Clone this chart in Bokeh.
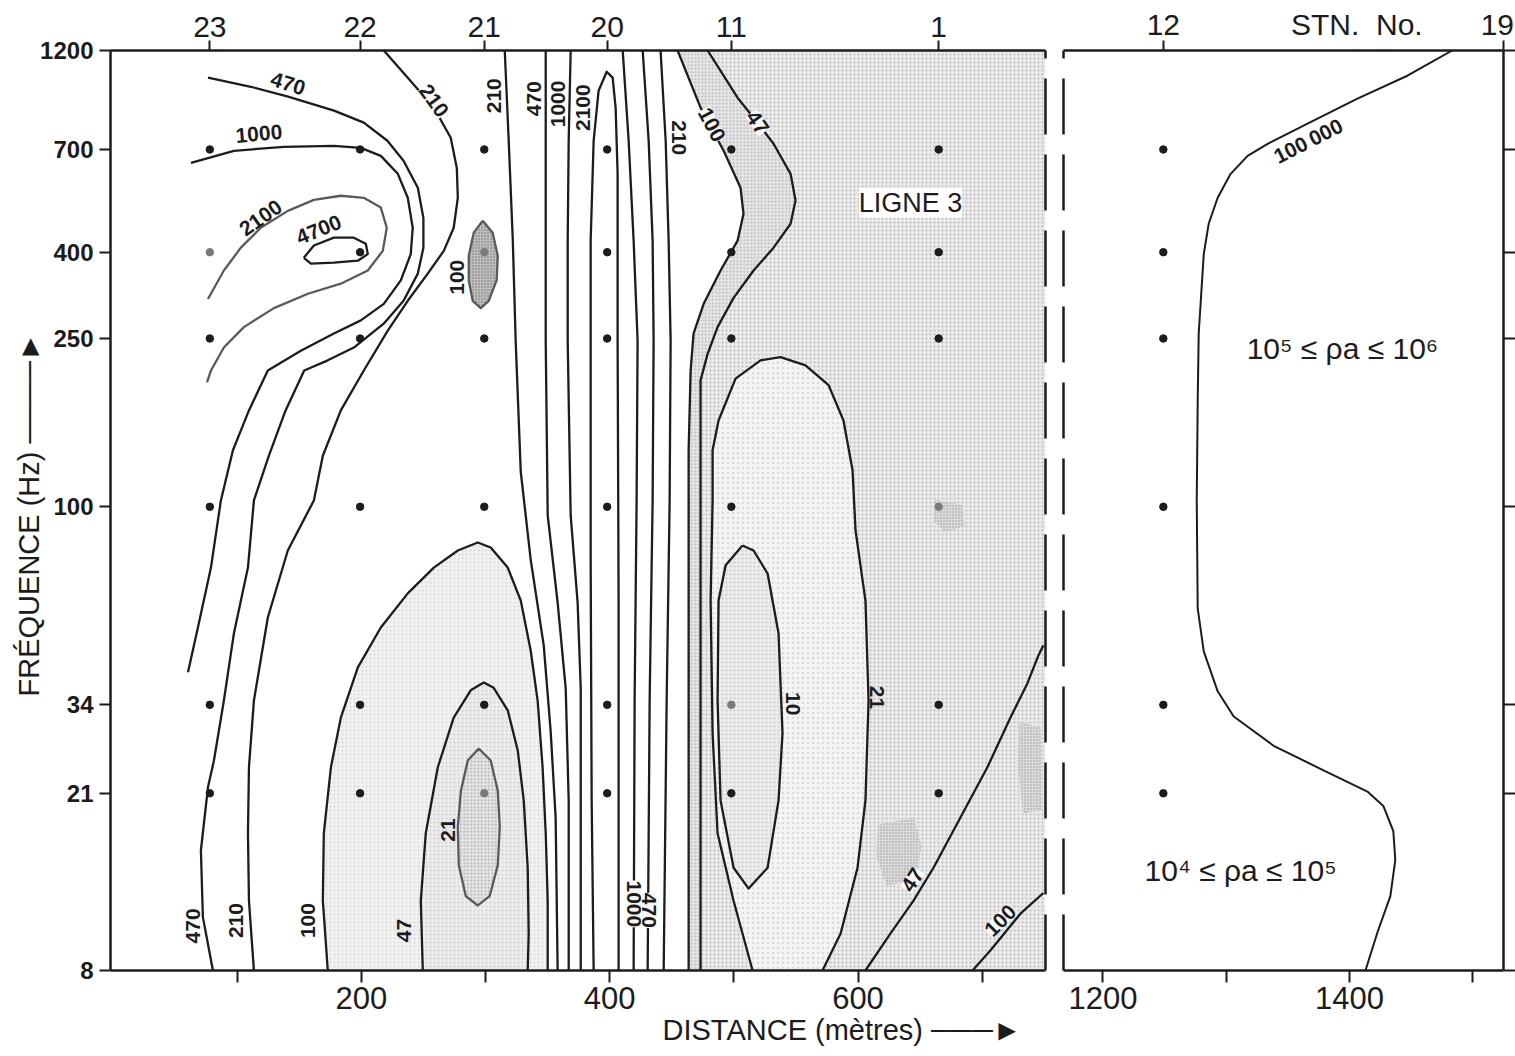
from bokeh.plotting import figure
from bokeh.layouts import row
from bokeh.models import Range1d, FixedTicker, LinearAxis, Label, Title, ColumnDataSource
from bokeh.embed import file_html
from bokeh.resources import INLINE

# ---------------------------------------------------------------- data
# Stations along the traverse (number label, distance in metres)
stations_main = ["23", "22", "21", "20", "11", "1"]
station_dist_main = [78, 199, 299, 398, 498, 665]
stations_far = ["12", "19"]
station_dist_far = [1249, 1525]
station_caption_dist = 1406

# Sounding frequencies (Hz) and axis ticks
freq_ticks = [8, 21, 34, 100, 250, 400, 700, 1200]
sounding_freqs = [21, 34, 100, 250, 400, 700]
dist_ticks_main = [100, 200, 300, 400, 500, 600, 700]
dist_labels_main = [200, 400, 600]
dist_ticks_far = [1200, 1300, 1400, 1500]
dist_labels_far = [1200, 1400]

# readings drawn with a fainter dot
faint_readings = [("23", 400), ("21", 400), ("21", 21), ("11", 34), ("1", 100)]

# Apparent-resistivity isolines (ohm.m): distance (m) / frequency (Hz)
iso470_w_d = [76.5, 111, 141, 178, 202, 221, 234, 245.5, 250, 250, 245.5, 234, 218, 194, 173, 154, 139,
              125.5, 113.5, 108.7, 97.4, 89.3, 81.3, 76.5, 70.8, 72.4, 80.5]
iso470_w_f = [1035, 985, 933, 865, 810, 734, 658, 568, 482, 410, 356, 307, 271, 238, 222, 210, 169,
              132, 103.5, 71.8, 50.2, 34.8, 25.1, 21.7, 15.4, 10.7, 8.0]
iso1000_w_d = [62.8, 97.4, 137.6, 177.9, 199.6, 215.7, 229.4, 237.4, 241.4, 239.8, 231.8, 218.1, 199.6,
               177.9, 151.3, 124.7, 109.5, 96.6, 86.9, 78.9, 68.4, 60.4]
iso1000_w_f = [651, 695, 710, 714, 706, 676, 613, 538, 457, 396, 343, 302, 276, 257, 234, 210, 169,
               136, 103.5, 71.8, 51.8, 40.6]
iso2100_w_d = [76.5, 89.3, 103, 119, 140.8, 161.8, 183.5, 202, 215.7, 220.5, 217.3, 205.2, 183.5, 157,
               129.6, 105.4, 89.3, 78.9, 75.7]
iso2100_w_f = [310, 362, 410, 457, 501, 532, 544, 538, 510, 457, 403, 362, 337, 319, 295, 266, 238, 210, 197]
iso4700_d = [153.7, 161.8, 177.9, 194, 203.6, 205.2, 197.2, 177.9, 159.4, 153.7]
iso4700_f = [388, 415, 433, 433, 419, 396, 382, 378, 376, 388]
iso210_w_d = [218.1, 237.4, 258.4, 272, 276.9, 277.7, 274.4, 266.4, 253.5, 237.4, 221.3, 202, 183.5, 169,
              161.8, 140.8, 124.7, 113.5, 109.5, 108.7, 109.5, 113.5]
iso210_w_f = [1200, 1035, 879, 746, 633, 538, 457, 403, 356, 307, 261, 210, 169, 132, 103.5, 78.8, 54.7,
              34.8, 24.2, 16.9, 11.7, 8.0]
iso100_b_d = [173, 169, 169.8, 175.5, 183.5, 197.2, 215.7, 237.4, 258.4, 277.7, 293.8, 304.2, 317.9, 328.4,
              336.4, 342, 346, 348.5, 350.1, 350.1]
iso100_b_f = [8.0, 11.7, 16.9, 24.2, 31.7, 41.7, 51.8, 62.4, 71.8, 78.8, 82.3, 80.1, 71.8, 60.0, 45.7,
              34.8, 24.2, 16.9, 11.7, 8.0]
iso47_b_d = [249.5, 247.9, 251.9, 261.6, 274.4, 288.1, 298.6, 306.6, 317.9, 326, 330.8, 334, 334.8, 334]
iso47_b_f = [8.0, 11.7, 16.9, 24.2, 31.7, 36.8, 38.4, 37.3, 33.0, 26.5, 20.2, 14.0, 9.79, 8.0]
iso21_b_d = [294.6, 304.2, 309.9, 311.5, 309.9, 303.4, 293.8, 284.1, 278.5, 277.7, 280.2, 285.7, 294.6]
iso21_b_f = [26.8, 25.1, 21.3, 17.5, 14.2, 12.0, 11.4, 12.0, 14.2, 17.5, 21.3, 25.1, 26.8]
iso100_s_d = [297.8, 305.8, 309.9, 309, 302.6, 296.2, 289.7, 286.5, 286.5, 290.5, 297.8]
iso100_s_f = [475, 445, 392, 343, 307, 295, 307, 343, 392, 445, 475]
iso210_l_d = [315.5, 318.7, 322, 324.3, 328.4, 336.4, 346.9, 352.5, 356.5, 358.1]
iso210_l_f = [1200, 734, 426, 247, 121, 75.0, 47.0, 29.4, 18.4, 8.0]
iso470_l_d = [348.5, 348.5, 348.5, 348.5, 350.1, 358.1, 364.6, 367, 367]
iso470_l_f = [1200, 734, 426, 247, 95.4, 59.3, 37.2, 20.2, 8.0]
iso1000_l_d = [368.6, 367, 366.2, 366.2, 368.6, 374.2, 376.7, 376.7, 376.7]
iso1000_l_f = [1200, 734, 426, 247, 95.4, 59.3, 37.2, 20.2, 8.0]
iso2100_m_d = [387.1, 385.5, 384.7, 384.7, 384.7, 387.1, 391.1, 397.6, 402.4, 404.8, 406.4, 406.4, 407.2, 407.2]
iso2100_m_f = [8.0, 20.2, 75.0, 247, 426, 734, 964, 1069, 1035, 879, 613, 247, 60.0, 8.0]
iso1000_r_d = [410.5, 415.3, 419.3, 422.5, 421.7, 420.1, 419.3]
iso470_r_d = [426.6, 431.4, 434.6, 435.4, 434.6, 432.2, 430.6]
iso210_r_d = [441, 445.1, 447.5, 449.1, 448.3, 445.9, 443.5]
iso_r_f = [1200, 734, 426, 247, 103.5, 34.8, 8.0]
iso100_e_d = [454.7, 473.2, 491.8, 505.4, 507.8, 503, 489.3, 475.7, 467.6, 465.2, 463.6, 463.6, 463.6, 463.6]
iso100_e_f = [1200, 879, 695, 568, 493, 426, 362, 302, 257, 210, 136, 60.0, 20.2, 8.0]
iso47_e_d = [478.9, 503, 519.1, 532, 545.7, 549.7, 545.7, 532, 515.9, 499.8, 486.9, 478.9, 473.2, 473.2,
             473.2, 473.2]
iso47_e_f = [1200, 928, 810, 722, 613, 530, 467, 410, 362, 312, 266, 230, 199, 103.5, 34.8, 8.0]
iso21_e_d = [515.1, 499.8, 486.9, 482.9, 481.3, 482.9, 482.9, 487.7, 501.4, 521.5, 537.6, 557.7, 576.3,
             588.3, 595.6, 598, 606, 608.5, 606, 599.6, 586, 571.4]
iso21_e_f = [8.0, 11.7, 16.9, 29.1, 60.0, 103.5, 136, 160, 201, 222, 226, 216, 194, 160, 122, 87.9, 60.0,
             34.8, 20.2, 14.0, 9.79, 8.0]
iso10_d = [507, 515.9, 527.2, 536, 539.2, 536, 527.2, 511.9, 499.8, 489.3, 486.9, 487.7, 493.4, 507]
iso10_f = [81.0, 78.8, 69.5, 50.2, 29.1, 20.2, 14.0, 12.5, 14.0, 20.2, 34.8, 60.0, 72.7, 81.0]
iso47_x_d = [606, 626.2, 644.7, 660.8, 682.5, 704.2, 722.7, 736.4, 745.3, 749.3]
iso47_x_f = [8.0, 9.79, 11.7, 14.0, 18.4, 24.2, 31.7, 38.2, 44.5, 47.0]
iso100_x_d = [692.2, 706.6, 730.8, 749.3]
iso100_x_f = [8.0, 8.92, 10.9, 12.2]
iso1e5_d = [1483.4, 1447, 1406.5, 1366, 1333.6, 1317.4, 1303.6, 1293.1, 1285.8, 1281.8, 1279.4, 1277.7,
            1276.9, 1276.1, 1276.9, 1281.8, 1293.1, 1306.1, 1338.5, 1379, 1414.6, 1427.5, 1435.6, 1437.2,
            1433.2, 1422.7, 1413]
iso1e5_f = [1200, 1046, 923, 806, 722, 676, 613, 538, 467, 396, 307, 257, 178, 103.5, 57.4, 45.5, 36.6,
            31.9, 27.2, 23.8, 21.2, 19.6, 17.1, 14.6, 12.0, 9.84, 8.0]

# denser stipple blotches inside the conductive zone: distance (m) / frequency (Hz)
blotch_a_d = [616, 645, 651, 647, 623, 615]
blotch_a_f = [17.7, 18.4, 15.8, 13.1, 12.7, 14.8]
blotch_b_d = [662, 684, 686, 670, 661]
blotch_b_f = [104, 101, 90, 87, 93]
blotch_c_d = [730, 747, 748, 733, 729]
blotch_c_f = [31.0, 30.0, 19.2, 18.8, 24.0]

# isoline name -> (level, distances, frequencies)
isolines = {
    "470w": (470, iso470_w_d, iso470_w_f),
    "1000w": (1000, iso1000_w_d, iso1000_w_f),
    "2100w": (2100, iso2100_w_d, iso2100_w_f),
    "4700": (4700, iso4700_d, iso4700_f),
    "210w": (210, iso210_w_d, iso210_w_f),
    "100b": (100, iso100_b_d, iso100_b_f),
    "47b": (47, iso47_b_d, iso47_b_f),
    "21b": (21, iso21_b_d, iso21_b_f),
    "100s": (100, iso100_s_d, iso100_s_f),
    "210l": (210, iso210_l_d, iso210_l_f),
    "470l": (470, iso470_l_d, iso470_l_f),
    "1000l": (1000, iso1000_l_d, iso1000_l_f),
    "2100m": (2100, iso2100_m_d, iso2100_m_f),
    "1000r": (1000, iso1000_r_d, iso_r_f),
    "470r": (470, iso470_r_d, iso_r_f),
    "210r": (210, iso210_r_d, iso_r_f),
    "100e": (100, iso100_e_d, iso100_e_f),
    "47e": (47, iso47_e_d, iso47_e_f),
    "21e": (21, iso21_e_d, iso21_e_f),
    "10": (10, iso10_d, iso10_f),
    "47x": (47, iso47_x_d, iso47_x_f),
    "100x": (100, iso100_x_d, iso100_x_f),
}
far_isolines = {"1e5": (100000, iso1e5_d, iso1e5_f)}

# ---------------------------------------------------------------- layout / style
INK = "#1c1c1c"
FONT = "Liberation Sans"
X_MAIN = (-2, 751)
X_FAR = (1168, 1525)
F_RANGE = (8, 1200)
ARROW_Y = "\u2500\u2500\u2500\u2500\u25ba"
ARROW_X = "\u2500\u2500\u2500\u25ba"

# where each isoline carries its value: (isoline, distance, frequency, angle deg, knock out line)
label_spots = [
    ("470w", 141, 1001, -17, False), ("1000w", 117.5, 762, 5, False), ("2100w", 119, 482, 35, False),
    ("4700", 165.8, 452, 22, False), ("210w", 258.4, 913, -54, True), ("100s", 276.9, 349, 90, False),
    ("210l", 306.6, 938, 90, False), ("470l", 338.8, 923, 90, False), ("1000l", 358.1, 897, 90, False),
    ("2100m", 378.3, 879, 90, False), ("210r", 455.5, 746, -90, False), ("100e", 482.1, 801, -62, True),
    ("47e", 519.1, 810, -55, True), ("470w", 64.4, 10.2, 90, False), ("210w", 99, 10.5, 90, False),
    ("100b", 157, 10.5, 90, False), ("47b", 234.2, 9.95, 90, False), ("21b", 269.6, 17.2, 90, False),
    ("1000r", 419.3, 11.5, -90, True), ("470r", 431.4, 11.1, -90, True), ("10", 548, 34.2, -90, False),
    ("21e", 615.7, 35.4, -90, False), ("47x", 643.9, 13.1, 57, True), ("100x", 714.7, 10.5, 45, True),
]
far_label_spots = [("1e5", 1366.5, 734, 27, False)]


def level_text(level):
    return f"{level:,}".replace(",", "\u2009") if level >= 10000 else str(level)


def style_axis(ax, size=0, bold=False, tick=11, standoff=6):
    ax.axis_line_color = INK
    ax.axis_line_width = 2.5
    for part in ("major", "minor"):
        setattr(ax, f"{part}_tick_line_color", INK)
        setattr(ax, f"{part}_tick_line_width", 2)
        setattr(ax, f"{part}_tick_out", tick)
        setattr(ax, f"{part}_tick_in", 0)
    ax.major_label_text_font = FONT
    ax.major_label_text_font_size = f"{size}px"
    ax.major_label_text_font_style = "bold" if bold else "normal"
    ax.major_label_text_color = INK
    ax.major_label_standoff = standoff


def split_ticks(ticks, labelled):
    return FixedTicker(ticks=[t for t in ticks if t in labelled],
                       minor_ticks=[t for t in ticks if t not in labelled])


yr = Range1d(*F_RANGE)
p1 = figure(width=1053, height=1056, x_range=Range1d(*X_MAIN), y_range=yr, y_axis_type="log",
            output_backend="svg", toolbar_location=None,
            min_border_left=110, min_border_right=8, min_border_top=50, min_border_bottom=86)
p2 = figure(width=462, height=1056, x_range=Range1d(*X_FAR), y_range=yr, y_axis_type="log",
            y_axis_location="right", output_backend="svg", toolbar_location=None,
            min_border_left=10, min_border_right=12, min_border_top=50, min_border_bottom=86)
for p in (p1, p2):
    p.outline_line_color = None
    p.grid.visible = False
    p.background_fill_color = "white"
    p.border_fill_color = "white"

# --- axes, main panel
ya = p1.yaxis[0]
ya.ticker = FixedTicker(ticks=freq_ticks)
ya.major_label_overrides = {f: str(f) for f in freq_ticks}
style_axis(ya, 24, bold=True, tick=11, standoff=6)
ya.axis_label = f"FRÉQUENCE (Hz)  {ARROW_Y}"
ya.axis_label_text_font = FONT
ya.axis_label_text_font_size = "29px"
ya.axis_label_text_font_style = "normal"
ya.axis_label_text_color = INK
ya.axis_label_standoff = -8

xa = p1.xaxis[0]
xa.ticker = split_ticks(dist_ticks_main, dist_labels_main)
style_axis(xa, 31, tick=12, standoff=4)
top1 = LinearAxis(ticker=FixedTicker(ticks=station_dist_main),
                  major_label_overrides=dict(zip(station_dist_main, stations_main)))
style_axis(top1, 30, tick=10, standoff=4)
p1.add_layout(top1, "above")
edge1 = LinearAxis(ticker=FixedTicker(ticks=[]))
style_axis(edge1, 10, tick=0, standoff=0)
edge1.axis_line_dash = "56 20"
p1.add_layout(edge1, "right")
p1.add_layout(Title(text=f"DISTANCE  (mètres)  {ARROW_X}", align="left", offset=552, standoff=0,
                    text_font=FONT, text_font_size="29px", text_font_style="normal", text_color=INK),
              "below")

# --- axes, far panel
ya2 = p2.yaxis[0]
ya2.ticker = FixedTicker(ticks=[], minor_ticks=freq_ticks)
style_axis(ya2, 10, tick=12, standoff=0)
xa2 = p2.xaxis[0]
xa2.ticker = split_ticks(dist_ticks_far, dist_labels_far)
style_axis(xa2, 31, tick=12, standoff=4)
# station numbers sit just inside the right edge so they stay on the page
far_label_pos = [min(d, X_FAR[1] - 5) for d in station_dist_far]
top2 = LinearAxis(ticker=FixedTicker(ticks=far_label_pos + [station_caption_dist],
                                     minor_ticks=station_dist_far),
                  major_label_overrides={**dict(zip(far_label_pos, stations_far)),
                                         station_caption_dist: "STN.\u00a0 No."})
style_axis(top2, 30, tick=10, standoff=0)
top2.major_tick_out = 0
p2.add_layout(top2, "above")
edge2 = LinearAxis(ticker=FixedTicker(ticks=[]))
style_axis(edge2, 10, tick=0, standoff=0)
edge2.axis_line_dash = "56 20"
p2.add_layout(edge2, "left")

# --- stippled low-resistivity zones
def zone(p, d, f, fill, hatch_color=None, scale=4.0):
    kw = dict(fill_color=fill, line_color=None)
    if hatch_color:
        kw.update(hatch_pattern="dot", hatch_color=hatch_color, hatch_scale=scale, hatch_weight=1.0)
    p.patch(d, f, **kw)


x_hi = X_MAIN[1]
zone(p1, iso100_e_d + [x_hi, x_hi], iso100_e_f + [F_RANGE[0], F_RANGE[1]], "#eaeaea", "#b8b8b8", 4)
zone(p1, iso100_e_d + iso47_e_d[::-1], iso100_e_f + iso47_e_f[::-1], "#e5e5e5", "#b0b0b0", 3.5)
zone(p1, iso21_e_d, iso21_e_f, "#f4f4f4", "#dadada", 5)
zone(p1, iso10_d, iso10_f, "#ececec", "#c8c8c8", 4)
for bd, bf in ((blotch_a_d, blotch_a_f), (blotch_b_d, blotch_b_f), (blotch_c_d, blotch_c_f)):
    zone(p1, bd, bf, "#dadada", "#979797", 3)
zone(p1, iso100_b_d, iso100_b_f, "#f2f2f2", "#d4d4d4", 4)
zone(p1, iso47_b_d, iso47_b_f, "#ededed", "#cccccc", 4)
zone(p1, iso21_b_d, iso21_b_f, "#e4e4e4", "#a4a4a4", 3.5)
zone(p1, iso100_s_d, iso100_s_f, "#bdbdbd", "#707070", 3)

# --- isolines
for key, (lvl, d, f) in isolines.items():
    col = "#5a5a5a" if key in ("21b", "2100w", "100s") else INK
    p1.line(d, f, line_color=col, line_width=2.3, line_join="round")
for key, (lvl, d, f) in far_isolines.items():
    p2.line(d, f, line_color=INK, line_width=2.0, line_join="round")

# --- sounding points
def dots(stations, dists, freqs):
    out = {"x": [], "y": [], "c": []}
    for st, d in zip(stations, dists):
        for fq in freqs:
            out["x"].append(d)
            out["y"].append(fq)
            out["c"].append("#7a7a7a" if (st, fq) in faint_readings else INK)
    return ColumnDataSource(out)


p1.scatter("x", "y", color="c", size=7.5, source=dots(stations_main, station_dist_main, sounding_freqs))
p2.scatter("x", "y", color="c", size=7.5, source=dots(stations_far[:1], station_dist_far[:1], sounding_freqs))

# --- isoline values
def add_labels(p, spots, lines):
    for boxed in (False, True):
        src = {"x": [], "y": [], "t": [], "a": []}
        for key, d, f, ang, knock in spots:
            if knock != boxed:
                continue
            src["x"].append(d)
            src["y"].append(f)
            src["t"].append(level_text(lines[key][0]))
            src["a"].append(ang)
        if not src["x"]:
            continue
        r = p.text(x="x", y="y", text="t", angle="a", angle_units="deg", source=ColumnDataSource(src),
                   text_align="center", text_baseline="middle", text_font_size="21px",
                   text_font={"value": FONT}, text_font_style="bold", text_color=INK)
        if boxed:
            r.glyph.background_fill_color = "#f7f7f7"


add_labels(p1, label_spots, isolines)
add_labels(p2, far_label_spots, far_isolines)

# --- captions
p1.add_layout(Label(x=642.3, y=524, text="LIGNE 3", text_font=FONT, text_font_size="27px",
                    text_align="center", text_baseline="middle", text_color=INK,
                    background_fill_color="white"))
p2.add_layout(Label(x=1394.3, y=237, text="10⁵ ≤ ρa ≤ 10⁶", text_font=FONT, text_font_size="30px",
                    text_align="center", text_baseline="middle", text_color=INK))
p2.add_layout(Label(x=1311.7, y=13.8, text="10⁴ ≤ ρa ≤ 10⁵", text_font=FONT, text_font_size="30px",
                    text_align="center", text_baseline="middle", text_color=INK))

layout = row(p1, p2)
open("out.html", "w").write(file_html(layout, INLINE))
